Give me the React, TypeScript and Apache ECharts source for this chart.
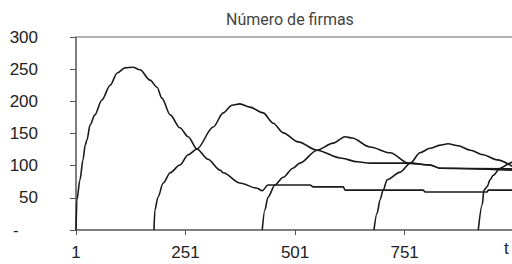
import React, { useEffect, useRef } from "react";
import * as echarts from "echarts";

const title = "Número de firmas";
const xTickLabels = ["1", "251", "501", "751"];
const yTickLabels = ["-", "50", "100", "150", "200", "250", "300"];

// [t - 1, firms]
const cohort1: [number, number][] = [
  [0, 0], [2, 47], [9, 78], [16, 109], [21, 132], [25, 140], [32, 163], [43, 179],
  [59, 202], [78, 225], [94, 244], [112, 252], [130, 253], [146, 249], [169, 233],
  [185, 222], [196, 205], [215, 179], [237, 159], [256, 145], [276, 126], [301, 110],
  [329, 93], [336, 89], [374, 73], [413, 65], [425, 61], [438, 70], [534, 70],
  [541, 67], [610, 67], [614, 62], [792, 62], [797, 59], [938, 59], [941, 62], [995, 62],
];
const cohort2: [number, number][] = [
  [178, 0], [180, 31], [187, 51], [199, 73], [215, 89], [237, 101], [256, 117],
  [276, 126], [313, 160], [336, 182], [356, 194], [374, 196], [397, 191], [427, 182],
  [450, 166], [473, 151], [507, 137], [550, 124], [603, 112], [642, 106], [671, 104],
  [717, 104], [758, 104], [808, 101], [831, 96], [995, 95],
];
const cohort3: [number, number][] = [
  [425, 0], [431, 31], [438, 51], [454, 70], [473, 82], [495, 96], [511, 104],
  [550, 124], [587, 135], [614, 145], [630, 143], [671, 129], [717, 120], [758, 104],
  [808, 101], [831, 96], [995, 93],
];
const cohort4: [number, number][] = [
  [680, 0], [687, 26], [694, 47], [701, 62], [710, 78], [740, 90], [763, 104],
  [785, 120], [808, 127], [831, 132], [849, 134], [872, 131], [900, 124], [929, 117],
  [961, 109], [995, 99],
];
const cohort5: [number, number][] = [
  [918, 0], [927, 39], [931, 62], [938, 67], [945, 78], [952, 85], [968, 96],
  [991, 104], [995, 106],
];
const cohorts = [cohort1, cohort2, cohort3, cohort4, cohort5];

export default function App() {
  const ref = useRef<HTMLDivElement>(null);
  useEffect(() => {
    if (!ref.current) return;
    const chart = echarts.init(ref.current, null, { renderer: "svg" });
    const labelFont = { fontFamily: "Liberation Sans, Arial, sans-serif", fontSize: 17, color: "#222" };
    chart.setOption({
      animation: false,
      grid: { left: 76, right: 0, top: 37, bottom: 34, containLabel: false },
      graphic: [
        {
          type: "text",
          left: 226,
          top: 11,
          style: {
            text: title,
            fontFamily: "Liberation Sans Narrow, Roboto, sans-serif",
            fontSize: 16,
            fill: "#444",
          },
        },
        {
          type: "text",
          left: 504,
          top: 240,
          style: { text: "t", fontFamily: "Liberation Sans, Arial, sans-serif", fontSize: 17, fill: "#222" },
        },
      ],
      xAxis: [
        {
          type: "value",
          min: 0,
          max: 995,
          interval: 250,
          position: "bottom",
          splitLine: { show: false },
          axisLine: { show: true, lineStyle: { color: "#555", width: 1.5 } },
          axisTick: { show: true, length: 5, lineStyle: { color: "#555" } },
          axisLabel: {
            ...labelFont,
            margin: 14,
            showMaxLabel: false,
            formatter: (v: number) => xTickLabels[Math.round(v / 250)] ?? "",
          },
        },
        {
          type: "value",
          min: 0,
          max: 995,
          position: "top",
          splitLine: { show: false },
          axisLine: { show: true, lineStyle: { color: "#999", width: 1.5 } },
          axisTick: { show: false },
          axisLabel: { show: false },
        },
      ],
      yAxis: {
        type: "value",
        min: 0,
        max: 300,
        interval: 50,
        splitLine: { show: false },
        axisLine: { show: true, lineStyle: { color: "#555", width: 1.5 } },
        axisTick: { show: true, length: 6, lineStyle: { color: "#555" } },
        axisLabel: {
          ...labelFont,
          margin: 38,
          formatter: (v: number) => {
            const s = yTickLabels[Math.round(v / 50)] ?? "";
            return v === 0 ? "{d|" + s + "}" : s;
          },
          rich: {
            d: { ...labelFont, width: 25, align: "left" },
          },
        },
      },
      series: cohorts.map((d) => ({
        type: "line",
        data: d,
        xAxisIndex: 0,
        showSymbol: false,
        symbol: "none",
        smooth: 0.3,
        smoothMonotone: "x",
        lineStyle: { color: "#1a1a1a", width: 1.6 },
        silent: true,
      })),
    });
    return () => chart.dispose();
  }, []);
  return (
    <div
      ref={ref}
      style={{ position: "fixed", left: 0, top: 0, width: 512, height: 264, background: "#fff" }}
    />
  );
}
